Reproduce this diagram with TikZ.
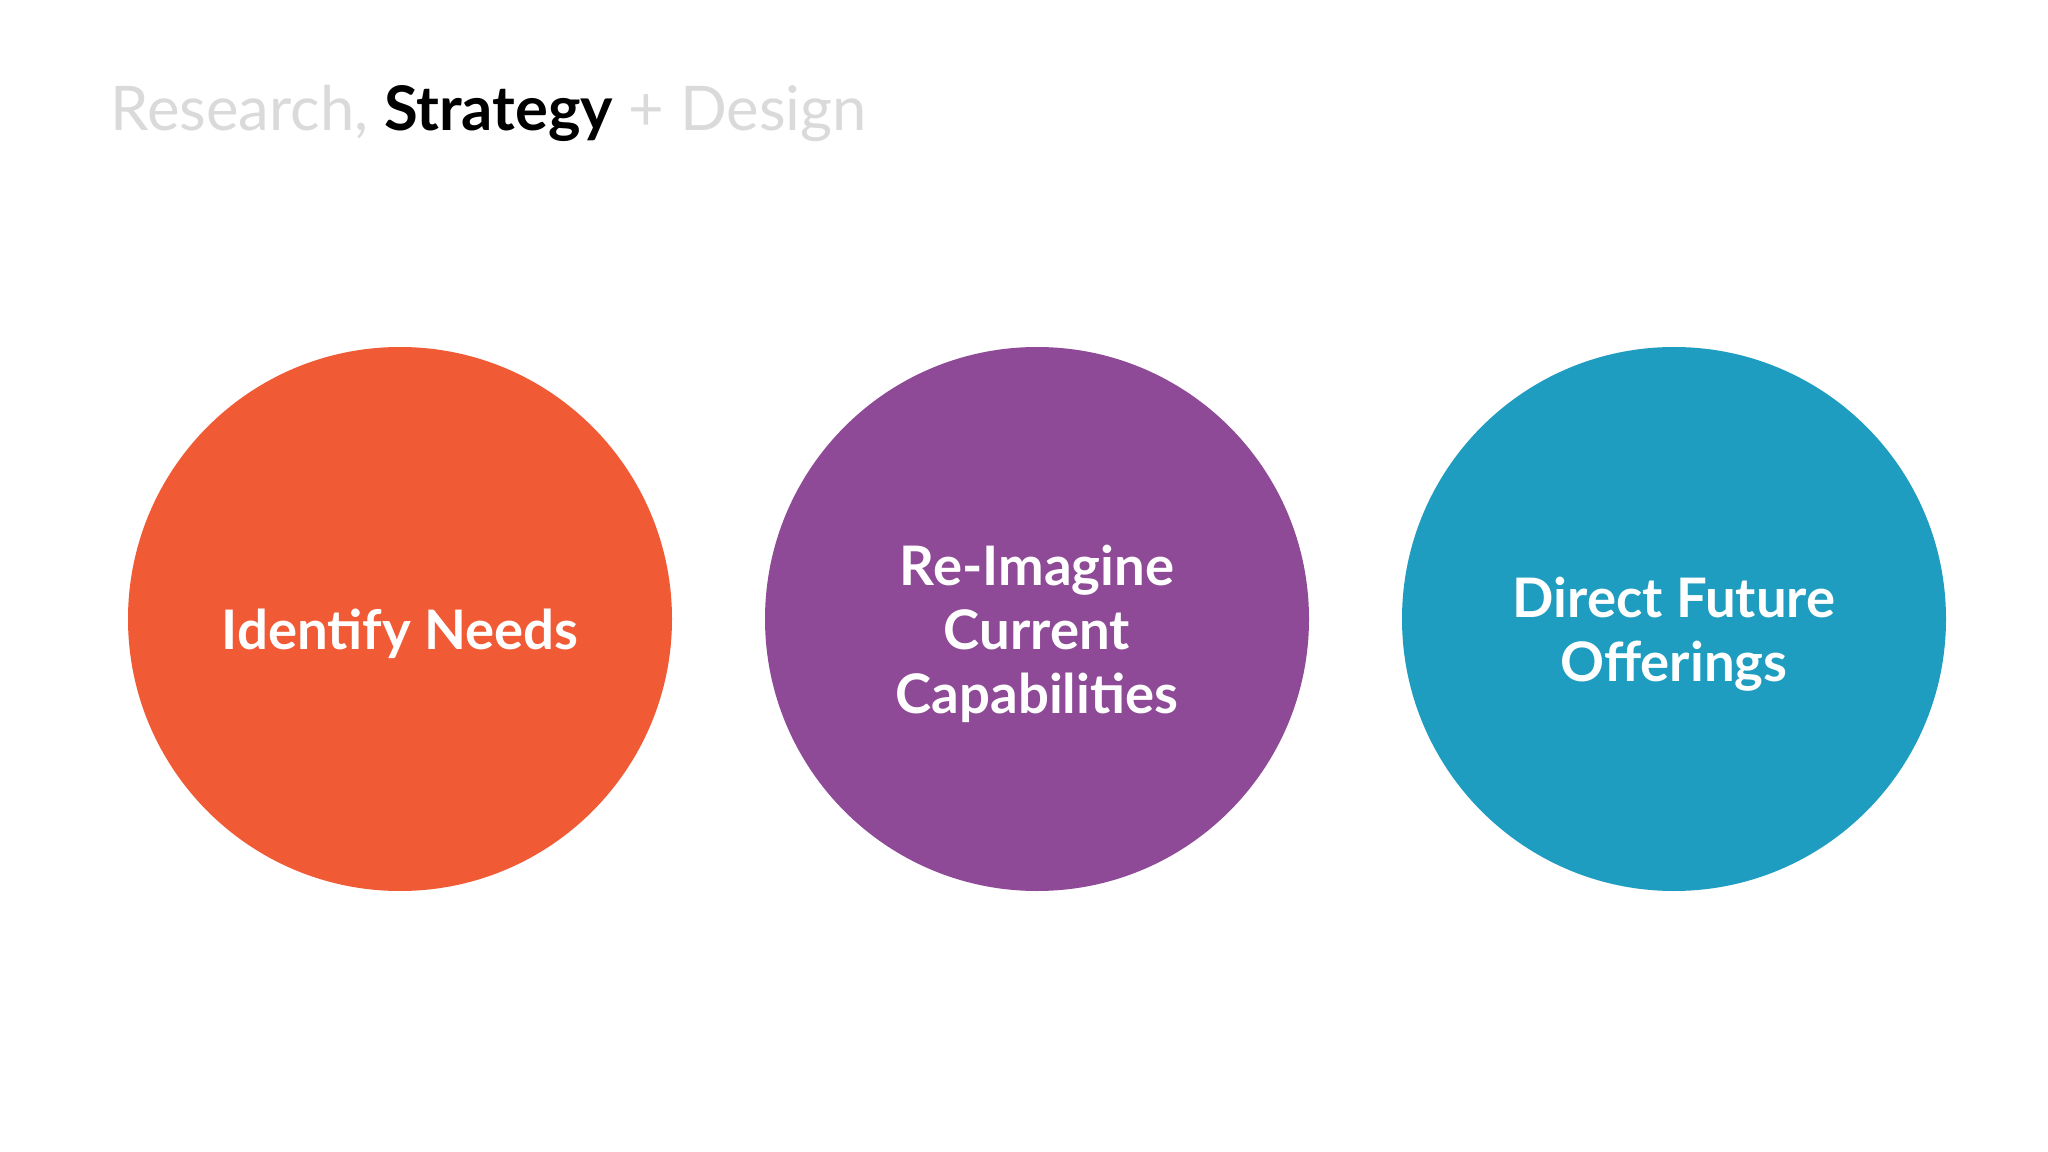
\documentclass[tikz,border=0pt]{standalone}
\usepackage{fontspec}
\setmainfont{Lato}
\definecolor{corange}{HTML}{F05A35}
\definecolor{cpurple}{HTML}{8E4A96}
\definecolor{cteal}{HTML}{1E9DC0}
\definecolor{cgray}{HTML}{DADADA}
\begin{document}
\begin{tikzpicture}[x=0.01cm,y=-0.01cm,
  bubble/.style={circle,minimum size=544\pgflinewidth,inner sep=0pt,text=white,align=center,font=\fontsize{15.5}{18.2}\selectfont\bfseries}]
\useasboundingbox[fill=white] (0,0) rectangle (2048,1152);
\fill[corange] (400,619) circle (272);
\fill[cpurple] (1037,619) circle (272);
\fill[cteal] (1674,619) circle (272);
\node[bubble] (a) at (400,634) {Identify Needs};
\node[bubble] (b) at (1037,634) {Re-Imagine\\Current\\Capabilities};
\node[bubble] (c) at (1674,634) {Direct Future\\Offerings};
\node[anchor=base west,inner sep=0pt,font=\fontsize{17.5}{20}\selectfont] (t) at (110,131)
 {\textcolor{cgray}{Research,} \textbf{Strategy} \textcolor{cgray}{+ Design}};
\end{tikzpicture}
\end{document}
